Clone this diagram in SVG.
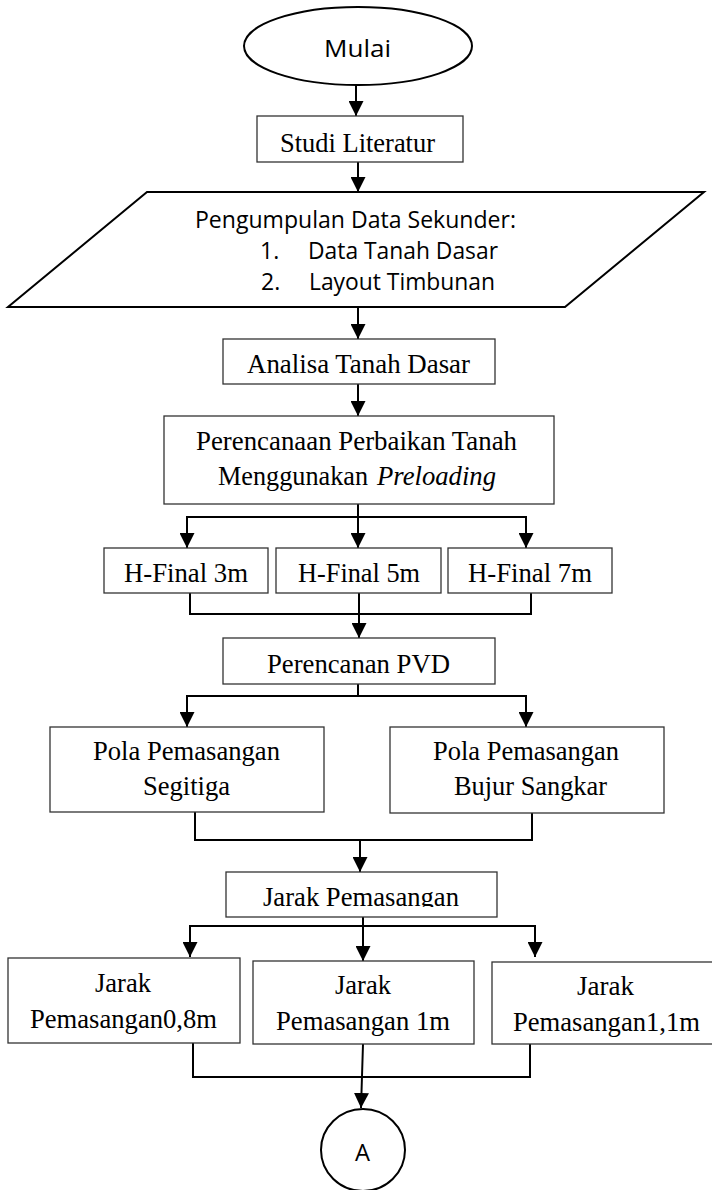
<svg xmlns="http://www.w3.org/2000/svg" width="712" height="1190" viewBox="0 0 712 1190">
<style>
.box{fill:#fff;stroke:#333;stroke-width:1.3}
.term{fill:#fff;stroke:#000;stroke-width:2}
.t{font-family:"Liberation Serif","Times New Roman",serif;font-size:28px;fill:#000}
.s{font-family:"Open Sans","Noto Sans","Liberation Sans",sans-serif;font-size:23px;fill:#000}
.c{fill:none;stroke:#000;stroke-width:2}
</style>
<defs>
<marker id="ah" markerUnits="userSpaceOnUse" viewBox="0 0 15 15" refX="15" refY="7.5" markerWidth="15" markerHeight="15" orient="auto">
<path d="M0,0 L15,7.5 L0,15 z" fill="#000"/>
</marker>
<clipPath id="clipJ"><rect x="226" y="872" width="271" height="35"/></clipPath>
</defs>
<rect width="712" height="1190" fill="#fff"/>

<g id="connectors">
<path class="c" d="M356,85 V116" marker-end="url(#ah)"/>
<path class="c" d="M358,162 V192" marker-end="url(#ah)"/>
<path class="c" d="M358,307 V339" marker-end="url(#ah)"/>
<path class="c" d="M358,384 V416" marker-end="url(#ah)"/>
<path class="c" d="M358,504 V517 M187,517 H526"/>
<path class="c" d="M187,516 V548" marker-end="url(#ah)"/>
<path class="c" d="M358,516 V548" marker-end="url(#ah)"/>
<path class="c" d="M526,516 V548" marker-end="url(#ah)"/>
<path class="c" d="M190,593 V614 H531 V593"/>
<path class="c" d="M359,593 V638" marker-end="url(#ah)"/>
<path class="c" d="M358,684 V696 M187,696 H526"/>
<path class="c" d="M187,695 V727" marker-end="url(#ah)"/>
<path class="c" d="M526,695 V727" marker-end="url(#ah)"/>
<path class="c" d="M195,808 V840 H532 V808"/>
<path class="c" d="M360,840 V872" marker-end="url(#ah)"/>
<path class="c" d="M190,926 H535"/>
<path class="c" d="M363,917 V961" marker-end="url(#ah)"/>
<path class="c" d="M190,925 V957" marker-end="url(#ah)"/>
<path class="c" d="M535,925 V957" marker-end="url(#ah)"/>
<path class="c" d="M193,1043 V1077 H530 V1044"/>
<path class="c" d="M363,1044 L361,1108" marker-end="url(#ah)"/>
</g>

<g id="mulai">
<ellipse class="term" cx="358" cy="46" rx="114" ry="39"/>
<text class="s" x="324" y="57" font-size="25" textLength="67" lengthAdjust="spacingAndGlyphs">Mulai</text>
</g>

<g id="studi">
<rect class="box" x="257" y="116" width="206" height="46"/>
<text class="t" x="280" y="152" textLength="155" lengthAdjust="spacingAndGlyphs">Studi Literatur</text>
</g>

<g id="pengumpulan">
<polygon class="term" points="147,192 704,192 565,307 8,307"/>
<text class="s" x="195" y="228" textLength="321" lengthAdjust="spacingAndGlyphs">Pengumpulan Data Sekunder:</text>
<text class="s" x="260" y="259">1.</text>
<text class="s" x="308" y="259" textLength="190" lengthAdjust="spacingAndGlyphs">Data Tanah Dasar</text>
<text class="s" x="261" y="290">2.</text>
<text class="s" x="309" y="290" textLength="186" lengthAdjust="spacingAndGlyphs">Layout Timbunan</text>
</g>

<g id="analisa">
<rect class="box" x="223" y="339" width="272" height="45"/>
<text class="t" x="247" y="373" textLength="223" lengthAdjust="spacingAndGlyphs">Analisa Tanah Dasar</text>
</g>

<g id="perencanaan">
<rect class="box" x="164" y="416" width="390" height="88"/>
<text class="t" x="196" y="450" textLength="321" lengthAdjust="spacingAndGlyphs">Perencanaan Perbaikan Tanah</text>
<text class="t" x="218" y="485" textLength="150" lengthAdjust="spacingAndGlyphs">Menggunakan</text>
<text class="t" x="377" y="485" font-style="italic" textLength="119" lengthAdjust="spacingAndGlyphs">Preloading</text>
</g>

<g id="hfinal3">
<rect class="box" x="104" y="548" width="164" height="45"/>
<text class="t" x="124" y="582" textLength="124" lengthAdjust="spacingAndGlyphs">H-Final 3m</text>
</g>
<g id="hfinal5">
<rect class="box" x="276" y="548" width="165" height="45"/>
<text class="t" x="298" y="582" textLength="122" lengthAdjust="spacingAndGlyphs">H-Final 5m</text>
</g>
<g id="hfinal7">
<rect class="box" x="448" y="548" width="164" height="45"/>
<text class="t" x="468" y="582" textLength="124" lengthAdjust="spacingAndGlyphs">H-Final 7m</text>
</g>

<g id="pvd">
<rect class="box" x="223" y="638" width="272" height="46"/>
<text class="t" x="267" y="673" textLength="183" lengthAdjust="spacingAndGlyphs">Perencanan PVD</text>
</g>

<g id="segitiga">
<rect class="box" x="50" y="727" width="274" height="85"/>
<text class="t" x="93" y="760" textLength="187" lengthAdjust="spacingAndGlyphs">Pola Pemasangan</text>
<text class="t" x="143" y="795" textLength="87" lengthAdjust="spacingAndGlyphs">Segitiga</text>
</g>

<g id="bujur">
<rect class="box" x="390" y="727" width="274" height="86"/>
<text class="t" x="433" y="760" textLength="186" lengthAdjust="spacingAndGlyphs">Pola Pemasangan</text>
<text class="t" x="454" y="795" textLength="153" lengthAdjust="spacingAndGlyphs">Bujur Sangkar</text>
</g>

<g id="jarak">
<rect class="box" x="226" y="872" width="271" height="45"/>
<text class="t" x="263" y="906" clip-path="url(#clipJ)" textLength="196" lengthAdjust="spacingAndGlyphs">Jarak Pemasangan</text>
</g>

<g id="jarak08">
<rect class="box" x="8" y="958" width="232" height="85"/>
<text class="t" x="95" y="992" textLength="56" lengthAdjust="spacingAndGlyphs">Jarak</text>
<text class="t" x="30" y="1028" textLength="187" lengthAdjust="spacingAndGlyphs">Pemasangan0,8m</text>
</g>
<g id="jarak1">
<rect class="box" x="253" y="961" width="221" height="83"/>
<text class="t" x="335" y="994" textLength="56" lengthAdjust="spacingAndGlyphs">Jarak</text>
<text class="t" x="276" y="1030" textLength="174" lengthAdjust="spacingAndGlyphs">Pemasangan 1m</text>
</g>
<g id="jarak11">
<rect class="box" x="492" y="962" width="230" height="82"/>
<text class="t" x="577" y="995" textLength="57" lengthAdjust="spacingAndGlyphs">Jarak</text>
<text class="t" x="513" y="1031" textLength="187" lengthAdjust="spacingAndGlyphs">Pemasangan1,1m</text>
</g>

<g id="connectorA">
<ellipse class="term" cx="363" cy="1150" rx="42" ry="41"/>
<text class="s" x="355" y="1161" font-size="24" textLength="15" lengthAdjust="spacingAndGlyphs">A</text>
</g>
</svg>
